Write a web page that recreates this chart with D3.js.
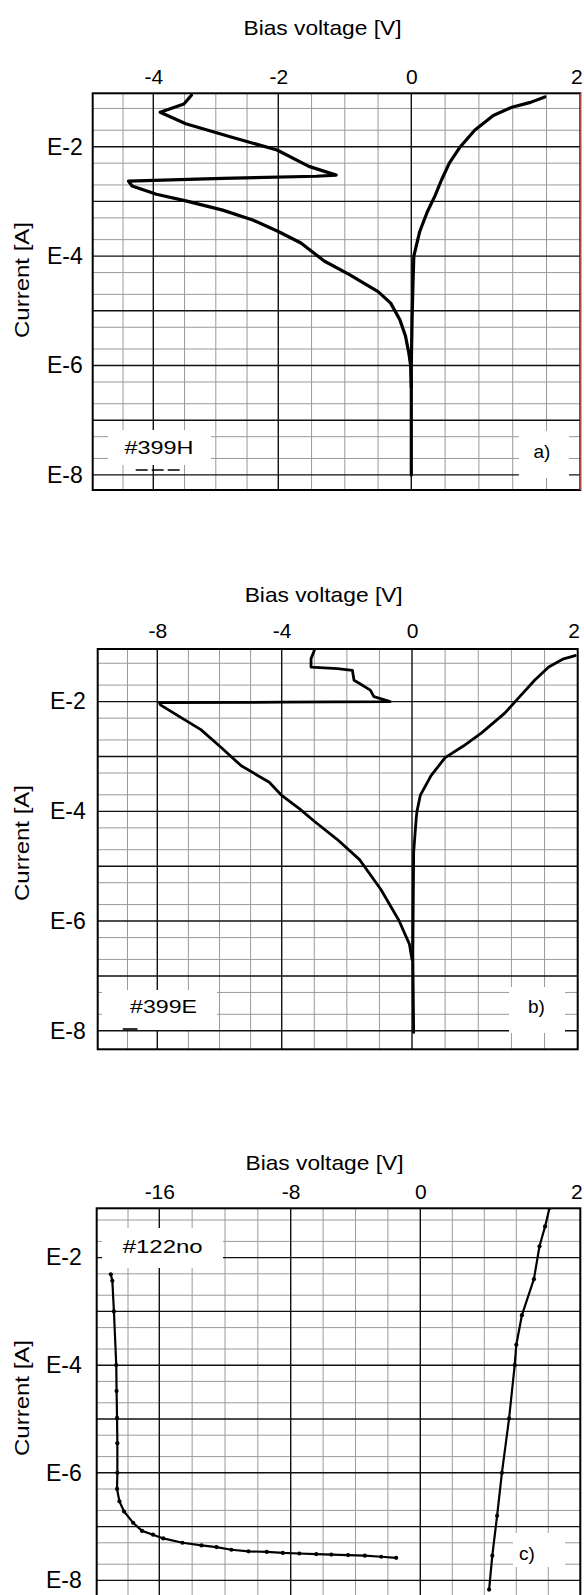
<!DOCTYPE html>
<html>
<head>
<meta charset="utf-8">
<script src="https://cdn.jsdelivr.net/npm/d3@7"></script>
<style>
  body { margin: 0; background: #fff; }
  svg { display: block; font-family: "Liberation Sans", Arial, sans-serif; }
  .grid-minor { stroke: #9a9a9a; stroke-width: 1; }
  .grid-major { stroke: #111; stroke-width: 1.4; }
  .curve { fill: none; stroke: #000; stroke-linejoin: round; stroke-linecap: round; }
</style>
</head>
<body>
<div id="chart"></div>
<script>
const W = 584, H = 1595;

// shared current axis (log), values in A
const yTickI = [1e-2, 1e-4, 1e-6, 1e-8];
const gridMajorI = [1e-2, 1e-3, 1e-4, 1e-5, 1e-6, 1e-7, 1e-8];
const gridMinorI = [5e-2, 2e-2, 5e-3, 2e-3, 5e-4, 2e-4, 5e-5, 2e-5, 5e-6, 2e-6, 5e-7, 2e-7, 5e-8, 2e-8];

// a) #399H
const aKnotV = [-5, -4, -2, 0, 2];
const aTickV = [-4, -2, 0, 2];
const aGridV = [-4.5, -4, -3.5, -3, -2.5, -2, -1.5, -1, -0.5, 0, 0.4, 0.8, 1.2, 1.6];
const aMajorV = [-4, -2, 0];
const aRevV = [-3.39, -3.51, -3.89, -3.48, -2.77, -2.02, -1.54, -1.13, -1.43, -2.89, -4.41, -4.35, -3.95, -3.48, -2.89, -2.41, -2.0, -1.66, -1.31, -0.93, -0.5, -0.31, -0.17, -0.09, -0.04, -0.01, 0.0];
const aRevLogI = [-1.06, -1.22, -1.37, -1.58, -1.82, -2.06, -2.36, -2.52, -2.54, -2.58, -2.63, -2.72, -2.87, -2.99, -3.16, -3.34, -3.55, -3.76, -4.09, -4.34, -4.65, -4.86, -5.17, -5.45, -5.75, -6.0, -6.4];
const aFwdV = [0.0, 0.0, 0.0, 0.01, 0.02, 0.03, 0.1, 0.19, 0.28, 0.36, 0.45, 0.58, 0.75, 0.97, 1.19, 1.41, 1.58];
const aFwdLogI = [-8.0, -6.9, -6.0, -5.1, -4.5, -4.0, -3.55, -3.19, -2.9, -2.6, -2.3, -2.0, -1.7, -1.43, -1.28, -1.19, -1.09];

// b) #399E
const bKnotV = [-10, -8, -4, 0, 2];
const bTickV = [-8, -4, 0, 2];
const bGridV = [-9, -8, -7, -6, -5, -4, -3, -2, -1, 0, 0.4, 0.8, 1.2, 1.6];
const bMajorV = [-8, -4, 0];
const bRevV = [-3.0, -3.1, -3.1, -2.29, -1.83, -1.78, -1.61, -1.28, -1.17, -0.67, -4.0, -7.93, -7.9, -7.3, -6.6, -6.0, -5.3, -4.4, -4.0, -3.46, -2.98, -2.3, -1.61, -0.95, -0.4, -0.08, 0.0];
const bRevLogI = [-1.07, -1.22, -1.37, -1.40, -1.43, -1.61, -1.67, -1.79, -1.91, -2.0, -2.01, -2.02, -2.06, -2.27, -2.51, -2.81, -3.17, -3.47, -3.71, -3.95, -4.19, -4.51, -4.88, -5.43, -5.99, -6.42, -6.7];
const bFwdV = [0.02, 0.01, 0.02, 0.05, 0.06, 0.1, 0.23, 0.4, 0.62, 0.84, 1.12, 1.3, 1.48, 1.65, 1.83, 1.97];
const bFwdLogI = [-8.03, -6.6, -4.75, -4.14, -4.0, -3.71, -3.35, -3.02, -2.81, -2.57, -2.21, -1.91, -1.61, -1.37, -1.22, -1.16];

// c) #122no
const cKnotV = [-20, -16, -8, 0, 2];
const cTickV = [-16, -8, 0, 2];
const cGridV = [-18, -16, -14, -12, -10, -8, -6, -4, -2, 0, 0.4, 0.8, 1.2, 1.6];
const cMajorV = [-16, -8, 0];
const cRevV = [-19.1, -19.0, -18.9, -18.75, -18.73, -18.7, -18.68, -18.68, -18.7, -18.55, -18.25, -17.67, -17.1, -16.4, -15.76, -14.59, -13.43, -12.52, -11.61, -10.57, -9.46, -8.48, -7.47, -6.42, -5.49, -4.46, -3.43, -2.41, -1.49];
const cRevLogI = [-2.31, -2.43, -3.0, -4.0, -4.48, -4.98, -5.45, -6.0, -6.3, -6.53, -6.72, -6.93, -7.08, -7.15, -7.22, -7.3, -7.35, -7.38, -7.43, -7.46, -7.47, -7.49, -7.5, -7.51, -7.52, -7.53, -7.54, -7.56, -7.58];
const cFwdV = [1.615, 1.56, 1.49, 1.42, 1.27, 1.2, 1.18, 1.11, 1.02, 0.96, 0.9, 0.86];
const cFwdLogI = [-1.08, -1.42, -1.79, -2.4, -3.07, -3.62, -4.0, -4.99, -6.0, -6.8, -7.54, -8.17];

const panels = [
  { name: "a", knots: aKnotV, ticks: aTickV, gridV: aGridV, majorV: aMajorV,
    curves: [[aRevV, aRevLogI], [aFwdV, aFwdLogI]],
    xPix: [92.7, 153.3, 278.3, 411.3, 580.3], top: 93.3, bottom: 490, yMax: 0.0946, yMin: 5.3e-9,
    titleY: 35, tickY: 84, labelGap: 10, ylabelY: 280, lineW: 3.2, dots: false, redRight: true,
    sample: { text: "#399H", x: 108, y: 430, w: 103, h: 35, tx: 124.5, ty: 454, len: 69, mark: [135.7, 182, 470, "12,4"] },
    letter: { text: "a)", x: 519, y: 431, w: 50, h: 47, tx: 533.5, ty: 458 } },
  { name: "b", knots: bKnotV, ticks: bTickV, gridV: bGridV, majorV: bMajorV,
    curves: [[bRevV, bRevLogI], [bFwdV, bFwdLogI]],
    xPix: [97.7, 157.3, 281.7, 412, 577.7], top: 649, bottom: 1049.3, yMax: 0.091, yMin: 4.6e-9,
    titleY: 601.7, tickY: 638.3, labelGap: 12, ylabelY: 843, lineW: 2.8, dots: false, redRight: false,
    sample: { text: "#399E", x: 102, y: 990, w: 115, h: 40, tx: 130, ty: 1013, len: 67, mark: [122.7, 137.5, 1029, null] },
    letter: { text: "b)", x: 509, y: 987, w: 56, h: 46, tx: 528, ty: 1013 } },
  { name: "c", knots: cKnotV, ticks: cTickV, gridV: cGridV, majorV: cMajorV,
    curves: [[cRevV, cRevLogI], [cFwdV, cFwdLogI]],
    xPix: [96.7, 159.3, 290.7, 420.3, 580.3], top: 1208.3, bottom: 1596.6, yMax: 0.0825, yMin: 5e-9,
    titleY: 1170, tickY: 1199, labelGap: 15, ylabelY: 1398, lineW: 2.2, dots: true, redRight: false,
    sample: { text: "#122no", x: 102, y: 1228, w: 121, h: 40, tx: 122.7, ty: 1253, len: 80, mark: null },
    letter: { text: "c)", x: 513, y: 1533, w: 52, h: 34, tx: 519, ty: 1560 } }
];

const svg = d3.select("#chart").append("svg")
  .attr("width", W)
  .attr("height", H);
const defs = svg.append("defs");

function drawPanel(p) {
  const x = d3.scaleLinear().domain(p.knots).range(p.xPix);
  const y = d3.scaleLog().domain([p.yMax, p.yMin]).range([p.top, p.bottom]);
  const left = p.xPix[0], right = p.xPix[p.xPix.length - 1];
  const g = svg.append("g").attr("id", "panel-" + p.name);

  defs.append("clipPath").attr("id", "clip-" + p.name)
    .append("rect")
    .attr("x", left).attr("y", p.top)
    .attr("width", right - left).attr("height", p.bottom - p.top);

  // grid: minor first, majors on top
  const grid = g.append("g");
  grid.selectAll(".vmin").data(p.gridV.filter(v => !p.majorV.includes(v))).join("line")
    .attr("class", "grid-minor")
    .attr("x1", d => x(d)).attr("x2", d => x(d))
    .attr("y1", p.top).attr("y2", p.bottom);
  grid.selectAll(".hmin").data(gridMinorI).join("line")
    .attr("class", "grid-minor")
    .attr("x1", left).attr("x2", right)
    .attr("y1", d => y(d)).attr("y2", d => y(d));
  grid.selectAll(".vmaj").data(p.majorV).join("line")
    .attr("class", "grid-major")
    .attr("x1", d => x(d)).attr("x2", d => x(d))
    .attr("y1", p.top).attr("y2", p.bottom);
  grid.selectAll(".hmaj").data(gridMajorI).join("line")
    .attr("class", "grid-major")
    .attr("x1", left).attr("x2", right)
    .attr("y1", d => y(d)).attr("y2", d => y(d));

  // white label boxes over the grid
  [p.sample, p.letter].forEach(b => {
    g.append("rect")
      .attr("x", b.x).attr("y", b.y).attr("width", b.w).attr("height", b.h)
      .attr("fill", "#fff");
    const t = g.append("text")
      .attr("x", b.tx).attr("y", b.ty)
      .attr("font-size", 19)
      .text(b.text);
    if (b.len) t.attr("textLength", b.len).attr("lengthAdjust", "spacingAndGlyphs");
  });
  if (p.sample.mark) {
    const m = p.sample.mark;
    g.append("line")
      .attr("x1", m[0]).attr("x2", m[1]).attr("y1", m[2]).attr("y2", m[2])
      .attr("stroke", "#000").attr("stroke-width", 1.6)
      .attr("stroke-dasharray", m[3]);
  }

  // I-V curves
  const line = d3.line()
    .x(d => x(d[0]))
    .y(d => y(Math.pow(10, d[1])));
  const plot = g.append("g").attr("clip-path", "url(#clip-" + p.name + ")");
  p.curves.forEach(c => {
    const pts = d3.zip(c[0], c[1]);
    plot.append("path")
      .datum(pts)
      .attr("class", "curve")
      .attr("stroke-width", p.lineW)
      .attr("d", line);
    if (p.dots) {
      plot.selectAll(null).data(pts).join("circle")
        .attr("cx", d => x(d[0]))
        .attr("cy", d => y(Math.pow(10, d[1])))
        .attr("r", 2.1)
        .attr("fill", "#000");
    }
  });

  // frame
  g.append("rect")
    .attr("x", left).attr("y", p.top)
    .attr("width", right - left).attr("height", p.bottom - p.top)
    .attr("fill", "none").attr("stroke", "#000").attr("stroke-width", 2);
  if (p.redRight) {
    g.append("line")
      .attr("x1", right).attr("x2", right).attr("y1", p.top).attr("y2", p.bottom)
      .attr("stroke", "#b85a50").attr("stroke-width", 1.2);
  }

  // top voltage axis
  const xAxis = g.append("g")
    .attr("transform", "translate(0," + p.top + ")")
    .call(d3.axisTop(x).tickValues(p.ticks).tickFormat(d => String(d))
      .tickSize(0).tickPadding(p.top - p.tickY));
  xAxis.select(".domain").remove();
  xAxis.selectAll("text")
    .attr("font-size", 21)
    .attr("font-family", "Liberation Sans, Arial, sans-serif")
    .attr("fill", "#000")
    .attr("dx", d => d === 2 ? -4 : 0);

  // left current axis
  const yAxis = g.append("g")
    .attr("transform", "translate(" + left + ",0)")
    .call(d3.axisLeft(y).tickValues(yTickI)
      .tickFormat(d => "E" + Math.round(Math.log10(d)))
      .tickSize(0).tickPadding(p.labelGap));
  yAxis.select(".domain").remove();
  yAxis.selectAll("text")
    .attr("font-size", 23)
    .attr("font-family", "Liberation Sans, Arial, sans-serif")
    .attr("fill", "#000");

  // titles
  g.append("text")
    .attr("x", (left + right) / 2 - 14).attr("y", p.titleY)
    .attr("text-anchor", "middle")
    .attr("font-size", 21)
    .attr("textLength", 158).attr("lengthAdjust", "spacingAndGlyphs")
    .text("Bias voltage [V]");
  g.append("text")
    .attr("transform", "translate(21.5," + p.ylabelY + ") rotate(-90)")
    .attr("text-anchor", "middle")
    .attr("dominant-baseline", "central")
    .attr("font-size", 20)
    .attr("textLength", 116).attr("lengthAdjust", "spacingAndGlyphs")
    .text("Current [A]");
}

panels.forEach(drawPanel);
</script>
</body>
</html>
